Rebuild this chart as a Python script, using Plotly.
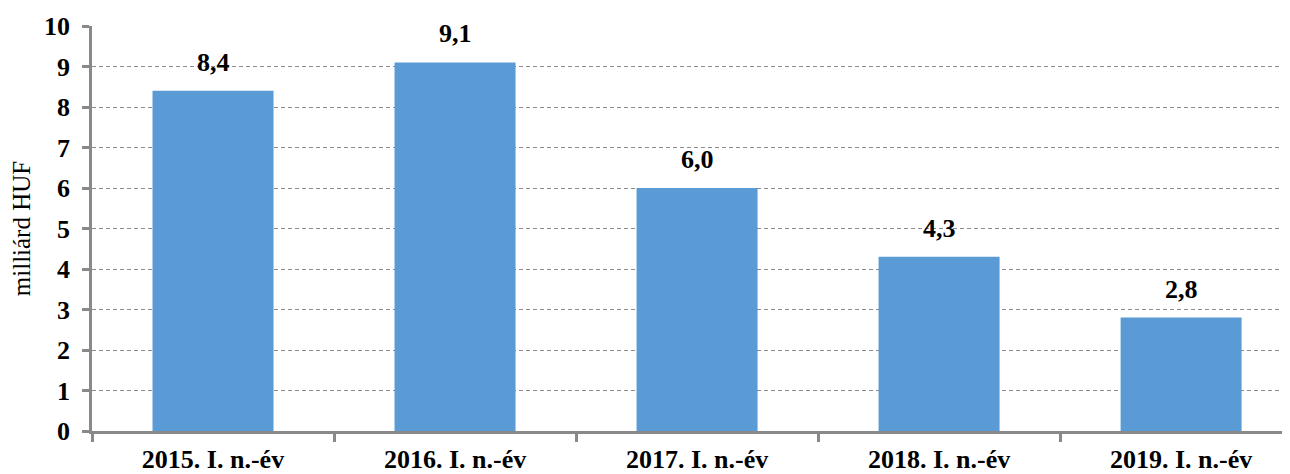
import plotly.graph_objects as go

categories = ["2015. I. n.-év", "2016. I. n.-év", "2017. I. n.-év",
              "2018. I. n.-év", "2019. I. n.-év"]
values = [8.4, 9.1, 6.0, 4.3, 2.8]
labels = [f"{v:.1f}".replace(".", ",") for v in values]

serif = "Liberation Serif, Times New Roman, serif"

fig = go.Figure(go.Bar(
    x=categories, y=values,
    width=0.5,
    marker=dict(color="#5B9BD5", line=dict(width=0)),
))

# value labels above bars
for c, v, t in zip(categories, values, labels):
    fig.add_annotation(x=c, y=v, text=t, showarrow=False,
                       yanchor="bottom", yshift=12,
                       font=dict(family=serif, size=26, color="black", weight="bold"))

# page body has an 8px margin, so the figure is sized to fill the rest of the window
fig.update_layout(
    width=1282, height=466,
    margin=dict(l=84, r=0, t=18, b=43),
    plot_bgcolor="white", paper_bgcolor="white",
    showlegend=False,
    font=dict(family=serif, color="black"),
)
fig.update_xaxes(
    range=[-0.5, 4.45], automargin=False,
    showline=True, linecolor="#898989", linewidth=2.5,
    ticks="outside", tickson="boundaries", ticklen=8, tickcolor="#898989", tickwidth=2.5,
    tickfont=dict(family=serif, size=26, color="black", weight="bold"),
    ticklabelstandoff=3,
    showgrid=False,
)
fig.update_yaxes(
    range=[0, 10], dtick=1, automargin=False,
    showline=True, linecolor="#898989", linewidth=2.5,
    ticks="outside", ticklen=7, tickcolor="#898989", tickwidth=2.5,
    tickfont=dict(family=serif, size=26, color="black", weight="bold"),
    ticklabelstandoff=7,
    showgrid=True, gridcolor="#8c8c8c", griddash="4px,3px", gridwidth=1,
    zeroline=False,
    title=dict(text="milliárd HUF", font=dict(family=serif, size=25, color="black"), standoff=10),
)

fig.write_html("out.html")
